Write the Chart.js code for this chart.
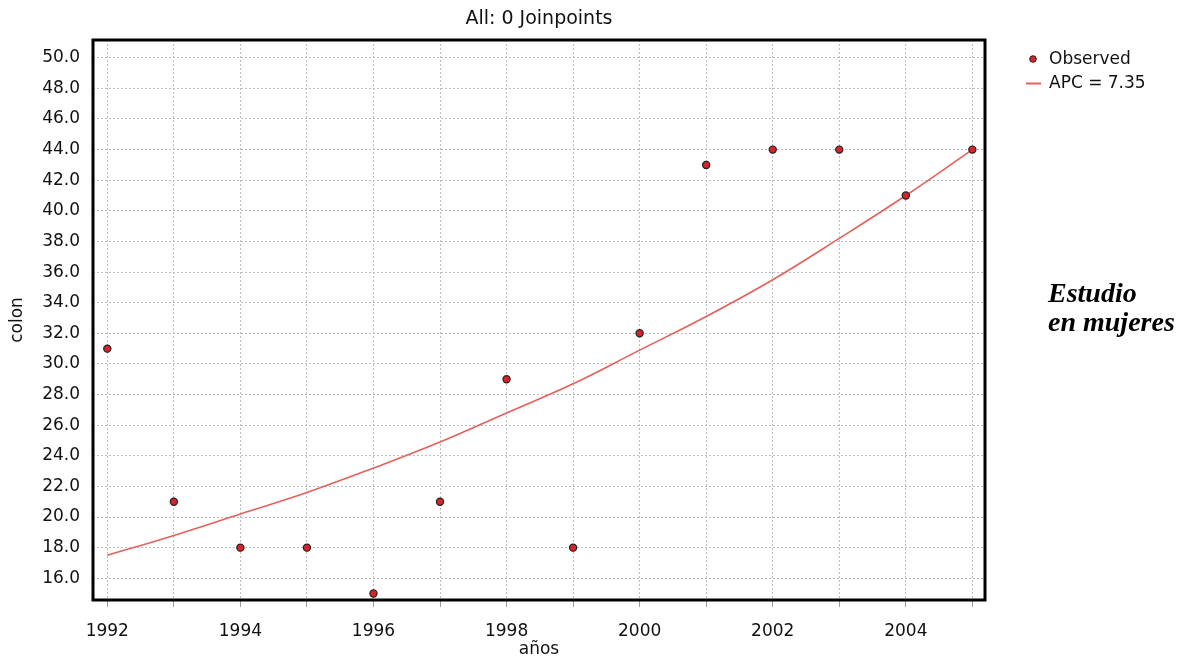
<!DOCTYPE html>
<html>
<head>
<meta charset="utf-8">
<script src="https://cdn.jsdelivr.net/npm/chart.js@4/dist/chart.umd.min.js"></script>
<style>
  html, body { margin: 0; padding: 0; background: #fff; }
  #wrap { width: 1187px; height: 665px; position: relative; }
</style>
</head>
<body>
<div id="wrap"><canvas id="joinpointChart"></canvas></div>
<script>
// data
const years = [1992, 1993, 1994, 1995, 1996, 1997, 1998, 1999, 2000, 2001, 2002, 2003, 2004, 2005];
const observed = [31, 21, 18, 18, 15, 21, 29, 18, 32, 43, 44, 44, 41, 44];
const apcFit = [17.5, 18.8, 20.2, 21.6, 23.2, 24.9, 26.8, 28.7, 30.9, 33.1, 35.5, 38.2, 41.0, 44.0];
const legendLabels = ["Observed", "APC = 7.35"];
const noteLines = ["Estudio", "en mujeres"];

const FONT = "'DejaVu Sans', sans-serif";
const POINT_RED = "#d9232a";
const LINE_RED = "#e4605b";
const GRID = "#bdbdbd";

// frame, legend and the side note
const extras = {
  id: "extras",
  afterDraw(chart) {
    const c = chart.ctx;
    const a = chart.chartArea;
    c.save();
    c.strokeStyle = "#000";
    c.lineWidth = 3;
    c.strokeRect(a.left, a.top, a.right - a.left, a.bottom - a.top);

    // legend
    c.fillStyle = POINT_RED;
    c.strokeStyle = "#222";
    c.lineWidth = 1;
    c.beginPath();
    c.arc(1033, 59, 3.3, 0, Math.PI * 2);
    c.fill();
    c.stroke();
    c.strokeStyle = LINE_RED;
    c.lineWidth = 2;
    c.beginPath();
    c.moveTo(1026, 83.5);
    c.lineTo(1041, 83.5);
    c.stroke();
    c.fillStyle = "#111";
    c.font = "17px " + FONT;
    c.textBaseline = "middle";
    c.fillText(legendLabels[0], 1049, 60);
    c.fillText(legendLabels[1], 1049, 84);

    // note
    c.font = "italic bold 28px 'Liberation Serif', serif";
    c.textBaseline = "alphabetic";
    c.fillStyle = "#000";
    c.fillText(noteLines[0], 1048, 302);
    c.fillText(noteLines[1], 1048, 331);
    c.restore();
  }
};

new Chart(document.getElementById("joinpointChart"), {
  type: "scatter",
  data: {
    datasets: [
      {
        label: legendLabels[0],
        data: years.map((y, i) => ({ x: y, y: observed[i] })),
        backgroundColor: POINT_RED,
        borderColor: "#222",
        borderWidth: 1.2,
        pointRadius: 3.6,
        order: 0
      },
      {
        type: "line",
        label: legendLabels[1],
        data: years.map((y, i) => ({ x: y, y: apcFit[i] })),
        borderColor: LINE_RED,
        borderWidth: 1.6,
        pointRadius: 0,
        fill: false,
        tension: 0.4,
        order: 1
      }
    ]
  },
  options: {
    responsive: true,
    maintainAspectRatio: false,
    animation: false,
    layout: { padding: { top: 0, left: 0, right: 202, bottom: 0 } },
    plugins: {
      legend: { display: false },
      tooltip: { enabled: false },
      title: {
        display: true,
        text: "All: 0 Joinpoints",
        fullSize: false,
        color: "#111",
        font: { family: FONT, size: 19, weight: "normal" },
        padding: { top: 8, bottom: 9.2 }
      }
    },
    scales: {
      x: {
        type: "linear",
        min: 1991.785,
        max: 2005.19,
        afterFit: s => { s.height = 65; },
        border: { display: false, dash: [2, 2] },
        grid: {
          color: GRID,
          lineWidth: 1,
          tickColor: "#999",
          tickLength: 7,
          tickBorderDash: []
        },
        ticks: {
          stepSize: 1,
          includeBounds: false,
          autoSkip: false,
          maxRotation: 0,
          padding: 14,
          color: "#111",
          font: { family: FONT, size: 17 },
          callback: v => (v % 2 === 0 ? String(v) : "")
        },
        title: {
          display: true,
          text: "años",
          color: "#111",
          font: { family: FONT, size: 17 },
          padding: { top: 0, bottom: 5 }
        }
      },
      y: {
        min: 14.58,
        max: 51.16,
        afterFit: s => { s.width = 93; },
        border: { display: false, dash: [2, 2] },
        grid: { color: GRID, lineWidth: 1, drawTicks: false },
        ticks: {
          stepSize: 2,
          includeBounds: false,
          padding: 13,
          color: "#111",
          font: { family: FONT, size: 17 },
          callback: v => v.toFixed(1)
        },
        title: {
          display: true,
          text: "colon",
          color: "#111",
          font: { family: FONT, size: 17 },
          padding: { top: 7, bottom: 0 }
        }
      }
    }
  },
  plugins: [extras]
});
</script>
</body>
</html>
